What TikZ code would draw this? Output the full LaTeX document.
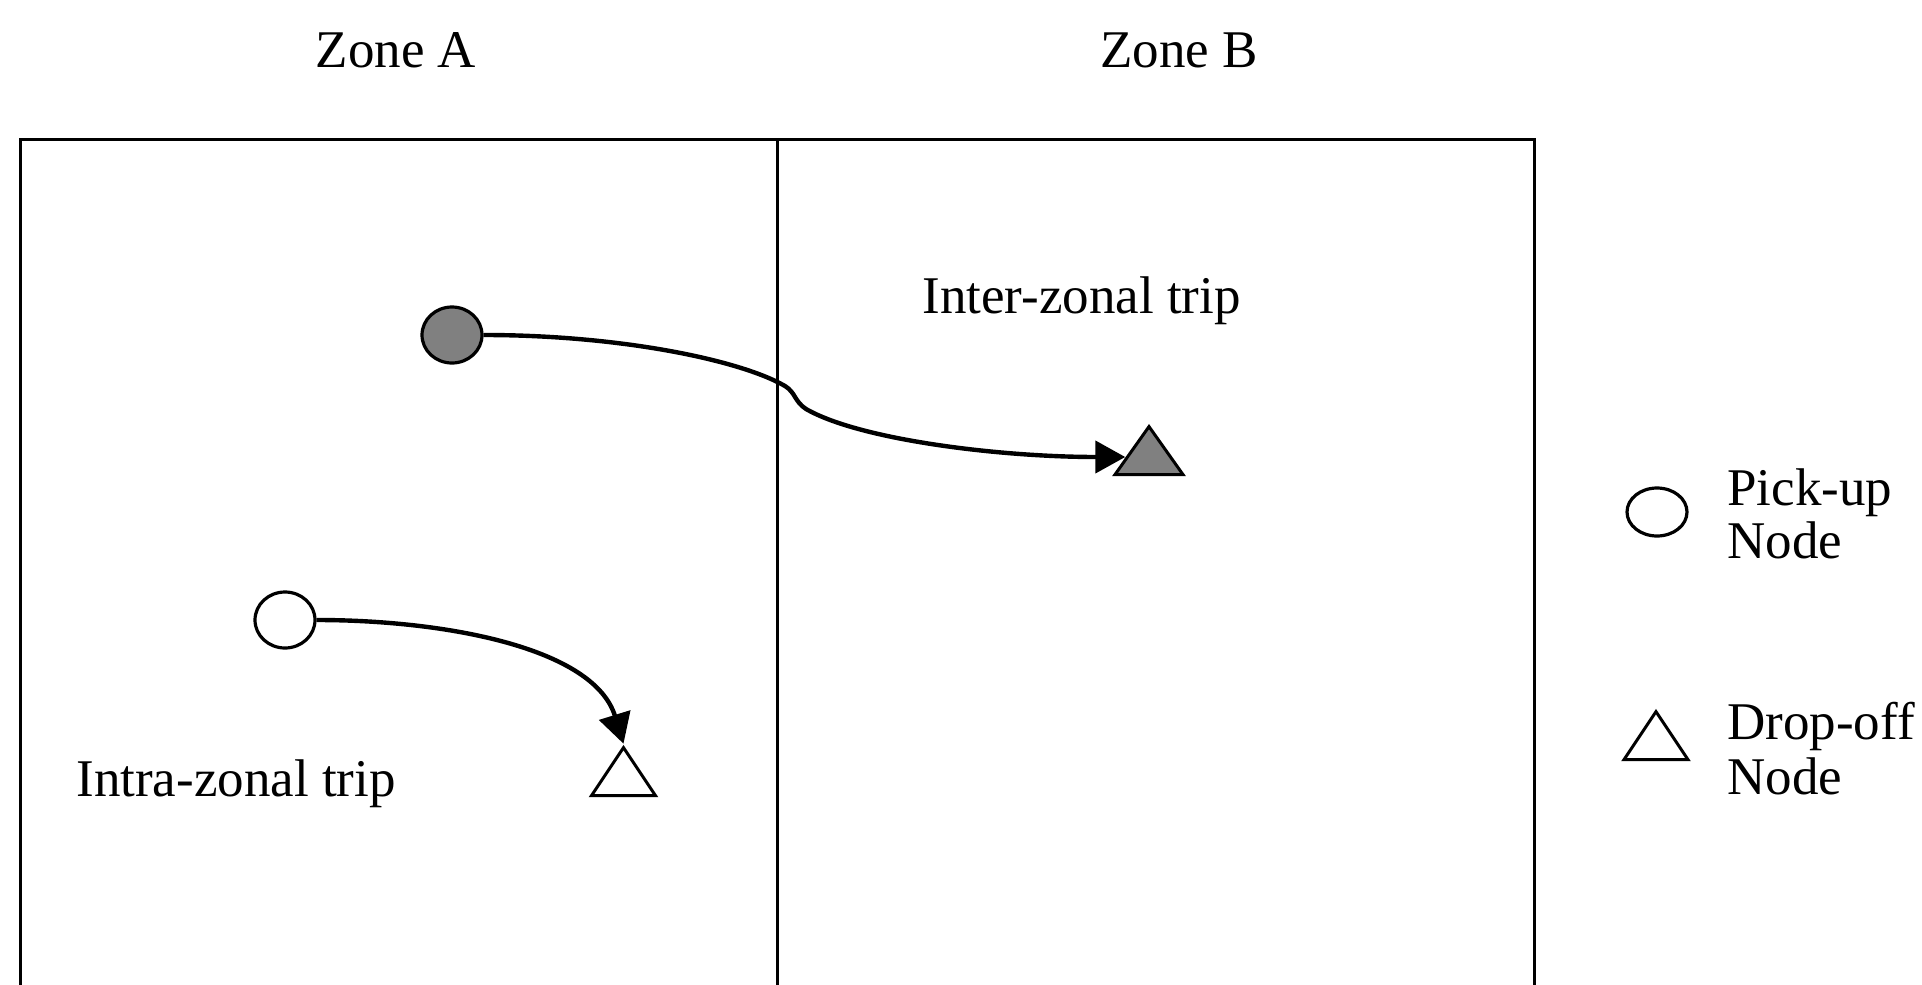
\documentclass[tikz,border=0pt]{standalone}
\usepackage{fontspec}
\setmainfont{Liberation Serif}
\usetikzlibrary{arrows.meta,shapes.geometric}
\begin{document}
\begin{tikzpicture}[x=0.5pt,y=-0.5pt,
  lbl/.style={font=\fontsize{26.5}{30}\selectfont, inner sep=0pt},
  zoneline/.style={line width=1.5pt, line cap=rect},
  pickup/.style={draw, line width=1.6pt, ellipse, minimum width=30pt, minimum height=28pt, inner sep=0pt},
  dropoff/.style={draw, line width=1.5pt, isosceles triangle, shape border rotate=90,
     isosceles triangle stretches, minimum width=34pt, minimum height=24pt, inner sep=0pt},
  shaded/.style={fill=black!50},
  trip/.style={line width=2.2pt, -{Triangle[length=15pt,width=16pt]}}
]
\useasboundingbox (0,0) rectangle (1922,985);
\fill[white] (0,0) rectangle (1922,985);
% zones
\draw[zoneline] (20,985) -- (20,139) -- (1534,139) -- (1534,985);
\draw[zoneline] (777,139) -- (777,985);
\node[lbl,anchor=base] (za) at (396,67) {Zone A};
\node[lbl,anchor=base] (zb) at (1179,67) {Zone B};
% nodes
\node[pickup,shaded] (pa) at (452,335) {};
\node[dropoff,shaded] (tb) at (1149,457) {};
\node[pickup] (pb) at (285,620) {};
\node[dropoff,minimum width=32pt] (tw) at (623.5,778.5) {};
% trips
\draw[trip] (pa.east) .. controls (620,335) and (740,360) .. (785,386)
   .. controls (796,393) and (794,401) .. (806,409)
   .. controls (860,440) and (1000,457) .. (tb.180);
\draw[trip] (pb.east) .. controls (446,620) and (594,648) .. (tw.north);
\node[lbl,anchor=base west] (inter) at (922,313) {Inter-zonal trip};
\node[lbl,anchor=base west] (intra) at (76,796) {Intra-zonal trip};
% legend
\node[pickup,minimum width=30pt,minimum height=24pt] (lp) at (1657,512) {};
\node[dropoff,minimum width=32pt,minimum height=24pt] (ld) at (1656,742.5) {};
\node[lbl,anchor=base west] (pu1) at (1727,505) {Pick-up};
\node[lbl,anchor=base west] (pu2) at (1727,558) {Node};
\node[lbl,anchor=base west] (do1) at (1727,739) {Drop-off};
\node[lbl,anchor=base west] (do2) at (1727,794) {Node};
\end{tikzpicture}
\end{document}
